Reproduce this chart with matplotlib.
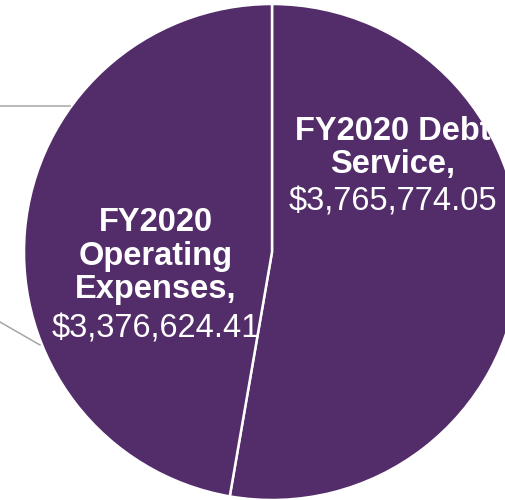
import matplotlib.pyplot as plt

# slice data
categories = ["FY2020 Debt\nService,", "FY2020\nOperating\nExpenses,"]
values = [3765774.05, 3376624.41]
value_labels = ["$3,765,774.05", "$3,376,624.41"]

purple = "#532c6a"
W, H = 506, 500

fig = plt.figure(figsize=(5.06, 5.0), dpi=100)
ax = fig.add_axes([0, 0, 1, 1])

# pie is cropped: centre near top-middle, running past right/bottom edges
ax.pie(values, colors=[purple, purple], startangle=90, counterclock=False,
       center=(272, H - 252), radius=248,
       wedgeprops=dict(edgecolor="white", linewidth=1.8))
ax.set_xlim(0, W)
ax.set_ylim(0, H)
ax.axis("off")

# leader lines for labels outside the crop
ax.plot([0, 70], [H - 106, H - 106], color="#a6a6a6", lw=1.1)
ax.plot([0, 40], [H - 322, H - 345], color="#a6a6a6", lw=1.1)

# label positions (pixels from top): bold category block, then value line
label_pos = [(393, 148, 202), (156, 256, 329)]
for cat, val, (x, ycat, yval) in zip(categories, value_labels, label_pos):
    ax.text(x, H - ycat, cat, color="white", fontsize=23.5, fontweight="bold",
            ha="center", va="center", linespacing=1.12,
            family=["Liberation Sans", "DejaVu Sans"])
    ax.text(x, H - yval, val, color="white", fontsize=23.5,
            ha="center", va="center", family=["Liberation Sans", "DejaVu Sans"])

fig.savefig("out.png", dpi=100)
